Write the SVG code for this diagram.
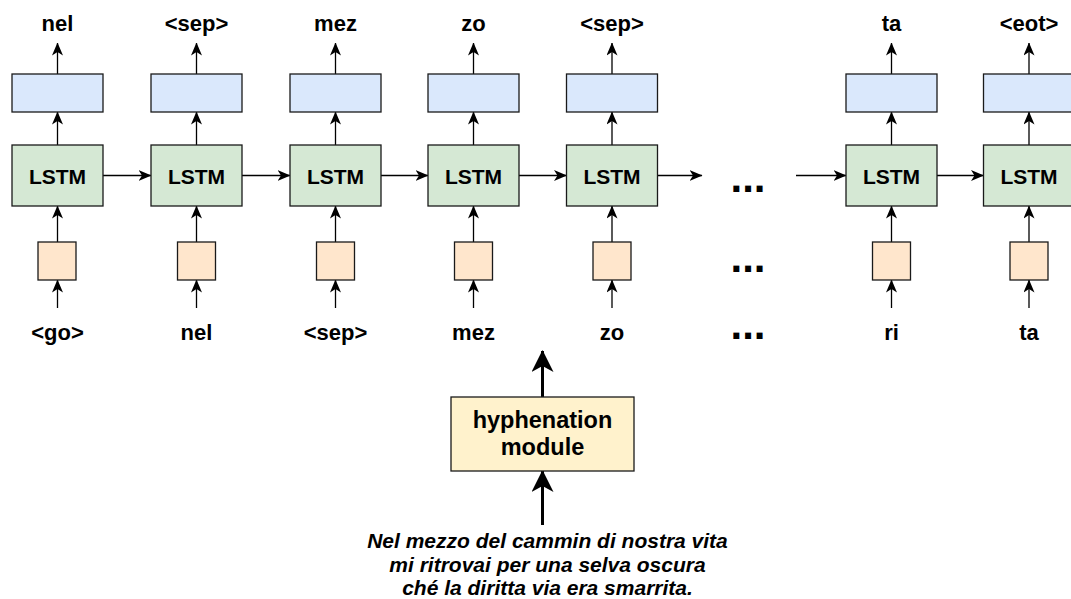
<svg xmlns="http://www.w3.org/2000/svg" width="1071" height="599" viewBox="0 0 1071 599">
  <defs>
    <style>
      .lbl { font-family: "Liberation Sans", Arial, Helvetica, sans-serif; font-weight: bold; fill: #000; text-anchor: middle; }
      .top { font-size: 22px; }
      .cell { font-size: 21px; }
      .dots { font-size: 42px; }
      .verse { font-size: 21px; font-style: italic; }
      .hyph { font-size: 23.5px; }
      .out { fill: #dae8fc; stroke: #1a1a1a; stroke-width: 1.3; }
      .lstm { fill: #d5e8d4; stroke: #1a1a1a; stroke-width: 1.3; }
      .emb { fill: #ffe6cc; stroke: #1a1a1a; stroke-width: 1.3; }
      .mod { fill: #fff2cc; stroke: #1a1a1a; stroke-width: 1.3; }
      .edge { fill: none; stroke: #000; stroke-width: 1.3; }
      .thick { fill: none; stroke: #000; stroke-width: 3; }
    </style>
    <marker id="arr" viewBox="0 0 13 11" refX="12.5" refY="5.5" markerWidth="13" markerHeight="11" markerUnits="userSpaceOnUse" orient="auto">
      <path d="M0,0 L13,5.5 L0,11 L3.5,5.5 Z" fill="#000"/>
    </marker>
    <marker id="arrBig" viewBox="0 0 22 22" refX="21" refY="11" markerWidth="22" markerHeight="22" markerUnits="userSpaceOnUse" orient="auto">
      <path d="M0,0 L22,11 L0,22 L6,11 Z" fill="#000"/>
    </marker>
  </defs>

  <!-- connectors -->
  <g id="connectors">
    <!-- column 1 -->
    <line class="edge" x1="57.5" y1="74" x2="57.5" y2="43" marker-end="url(#arr)"/>
    <line class="edge" x1="57.5" y1="145" x2="57.5" y2="112" marker-end="url(#arr)"/>
    <line class="edge" x1="57.5" y1="242" x2="57.5" y2="206" marker-end="url(#arr)"/>
    <line class="edge" x1="57.5" y1="308" x2="57.5" y2="280" marker-end="url(#arr)"/>
    <!-- column 2 -->
    <line class="edge" x1="196.5" y1="74" x2="196.5" y2="43" marker-end="url(#arr)"/>
    <line class="edge" x1="196.5" y1="145" x2="196.5" y2="112" marker-end="url(#arr)"/>
    <line class="edge" x1="196.5" y1="242" x2="196.5" y2="206" marker-end="url(#arr)"/>
    <line class="edge" x1="196.5" y1="308" x2="196.5" y2="280" marker-end="url(#arr)"/>
    <!-- column 3 -->
    <line class="edge" x1="335.5" y1="74" x2="335.5" y2="43" marker-end="url(#arr)"/>
    <line class="edge" x1="335.5" y1="145" x2="335.5" y2="112" marker-end="url(#arr)"/>
    <line class="edge" x1="335.5" y1="242" x2="335.5" y2="206" marker-end="url(#arr)"/>
    <line class="edge" x1="335.5" y1="308" x2="335.5" y2="280" marker-end="url(#arr)"/>
    <!-- column 4 -->
    <line class="edge" x1="473.5" y1="74" x2="473.5" y2="43" marker-end="url(#arr)"/>
    <line class="edge" x1="473.5" y1="145" x2="473.5" y2="112" marker-end="url(#arr)"/>
    <line class="edge" x1="473.5" y1="242" x2="473.5" y2="206" marker-end="url(#arr)"/>
    <line class="edge" x1="473.5" y1="308" x2="473.5" y2="280" marker-end="url(#arr)"/>
    <!-- column 5 -->
    <line class="edge" x1="612" y1="74" x2="612" y2="43" marker-end="url(#arr)"/>
    <line class="edge" x1="612" y1="145" x2="612" y2="112" marker-end="url(#arr)"/>
    <line class="edge" x1="612" y1="242" x2="612" y2="206" marker-end="url(#arr)"/>
    <line class="edge" x1="612" y1="308" x2="612" y2="280" marker-end="url(#arr)"/>
    <!-- column 6 -->
    <line class="edge" x1="891.5" y1="74" x2="891.5" y2="43" marker-end="url(#arr)"/>
    <line class="edge" x1="891.5" y1="145" x2="891.5" y2="112" marker-end="url(#arr)"/>
    <line class="edge" x1="891.5" y1="242" x2="891.5" y2="206" marker-end="url(#arr)"/>
    <line class="edge" x1="891.5" y1="308" x2="891.5" y2="280" marker-end="url(#arr)"/>
    <!-- column 7 -->
    <line class="edge" x1="1029" y1="74" x2="1029" y2="43" marker-end="url(#arr)"/>
    <line class="edge" x1="1029" y1="145" x2="1029" y2="112" marker-end="url(#arr)"/>
    <line class="edge" x1="1029" y1="242" x2="1029" y2="206" marker-end="url(#arr)"/>
    <line class="edge" x1="1029" y1="308" x2="1029" y2="280" marker-end="url(#arr)"/>
    <!-- recurrent links -->
    <line class="edge" x1="103" y1="175.5" x2="151" y2="175.5" marker-end="url(#arr)"/>
    <line class="edge" x1="242" y1="175.5" x2="290" y2="175.5" marker-end="url(#arr)"/>
    <line class="edge" x1="381" y1="175.5" x2="428" y2="175.5" marker-end="url(#arr)"/>
    <line class="edge" x1="519" y1="175.5" x2="566.5" y2="175.5" marker-end="url(#arr)"/>
    <line class="edge" x1="657.5" y1="175.5" x2="702" y2="175.5" marker-end="url(#arr)"/>
    <line class="edge" x1="796" y1="175.5" x2="846" y2="175.5" marker-end="url(#arr)"/>
    <line class="edge" x1="937" y1="175.5" x2="983.5" y2="175.5" marker-end="url(#arr)"/>
    <!-- hyphenation module links -->
    <line class="thick" x1="542.5" y1="397" x2="542.5" y2="351" marker-end="url(#arrBig)"/>
    <line class="thick" x1="542.5" y1="525" x2="542.5" y2="471" marker-end="url(#arrBig)"/>
  </g>

  <!-- column 1 -->
  <g id="col1">
    <rect class="out" x="12" y="74" width="91" height="38"/>
    <rect class="lstm" x="12" y="145" width="91" height="61"/>
    <text class="lbl cell" x="57.5" y="183.5">LSTM</text>
    <rect class="emb" x="38" y="242" width="38" height="38"/>
    <text class="lbl top" x="57.5" y="31">nel</text>
    <text class="lbl top" x="57.5" y="340">&lt;go&gt;</text>
  </g>
  <!-- column 2 -->
  <g id="col2">
    <rect class="out" x="151" y="74" width="91" height="38"/>
    <rect class="lstm" x="151" y="145" width="91" height="61"/>
    <text class="lbl cell" x="196.5" y="183.5">LSTM</text>
    <rect class="emb" x="177.5" y="242" width="38" height="38"/>
    <text class="lbl top" x="196.5" y="31">&lt;sep&gt;</text>
    <text class="lbl top" x="196.5" y="340">nel</text>
  </g>
  <!-- column 3 -->
  <g id="col3">
    <rect class="out" x="290" y="74" width="91" height="38"/>
    <rect class="lstm" x="290" y="145" width="91" height="61"/>
    <text class="lbl cell" x="335.5" y="183.5">LSTM</text>
    <rect class="emb" x="316.5" y="242" width="38" height="38"/>
    <text class="lbl top" x="335.5" y="31">mez</text>
    <text class="lbl top" x="335.5" y="340">&lt;sep&gt;</text>
  </g>
  <!-- column 4 -->
  <g id="col4">
    <rect class="out" x="428" y="74" width="91" height="38"/>
    <rect class="lstm" x="428" y="145" width="91" height="61"/>
    <text class="lbl cell" x="473.5" y="183.5">LSTM</text>
    <rect class="emb" x="454.5" y="242" width="38" height="38"/>
    <text class="lbl top" x="473.5" y="31">zo</text>
    <text class="lbl top" x="473.5" y="340">mez</text>
  </g>
  <!-- column 5 -->
  <g id="col5">
    <rect class="out" x="566.5" y="74" width="91" height="38"/>
    <rect class="lstm" x="566.5" y="145" width="91" height="61"/>
    <text class="lbl cell" x="612" y="183.5">LSTM</text>
    <rect class="emb" x="593" y="242" width="38" height="38"/>
    <text class="lbl top" x="612" y="31">&lt;sep&gt;</text>
    <text class="lbl top" x="612" y="340">zo</text>
  </g>
  <!-- elided steps -->
  <g id="ellipsis">
    <text class="lbl dots" x="748" y="192">...</text>
    <text class="lbl dots" x="748" y="272">...</text>
    <text class="lbl dots" x="748" y="339">...</text>
  </g>
  <!-- column 6 -->
  <g id="col6">
    <rect class="out" x="846" y="74" width="91" height="38"/>
    <rect class="lstm" x="846" y="145" width="91" height="61"/>
    <text class="lbl cell" x="891.5" y="183.5">LSTM</text>
    <rect class="emb" x="872.5" y="242" width="38" height="38"/>
    <text class="lbl top" x="891.5" y="31">ta</text>
    <text class="lbl top" x="891.5" y="340">ri</text>
  </g>
  <!-- column 7 -->
  <g id="col7">
    <rect class="out" x="983.5" y="74" width="91" height="38"/>
    <rect class="lstm" x="983.5" y="145" width="91" height="61"/>
    <text class="lbl cell" x="1029" y="183.5">LSTM</text>
    <rect class="emb" x="1010" y="242" width="38" height="38"/>
    <text class="lbl top" x="1029" y="31">&lt;eot&gt;</text>
    <text class="lbl top" x="1029" y="340">ta</text>
  </g>

  <!-- hyphenation module -->
  <g id="hyphenation">
    <rect class="mod" x="451" y="397" width="183" height="74"/>
    <text class="lbl hyph" x="542.5" y="428">hyphenation</text>
    <text class="lbl hyph" x="542.5" y="455">module</text>
  </g>

  <!-- input verse -->
  <g id="verse">
    <text class="lbl verse" x="547.5" y="548">Nel mezzo del cammin di nostra vita</text>
    <text class="lbl verse" x="547.5" y="572">mi ritrovai per una selva oscura</text>
    <text class="lbl verse" x="547.5" y="595">ché la diritta via era smarrita.</text>
  </g>
</svg>
